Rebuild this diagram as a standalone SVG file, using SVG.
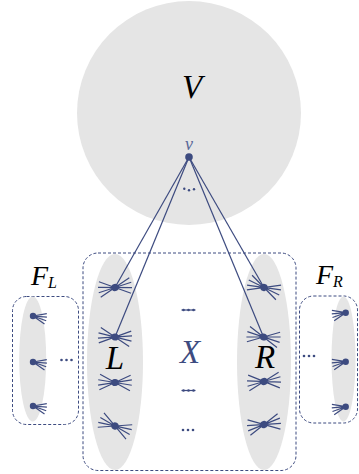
<svg xmlns="http://www.w3.org/2000/svg" xmlns:xlink="http://www.w3.org/1999/xlink" width="359" height="474" viewBox="0 0 359 474">
<style>
.blob{fill:#e5e5e5;stroke:none}
.box{fill:none;stroke:#3d4b80;stroke-width:1;stroke-dasharray:3 2}
.edge{stroke:#3d4b80;stroke-width:1.2;fill:none}
.sp{stroke:#3d4b80;stroke-width:1.2;fill:none}
.dot{fill:#3d4b80}
.big{font-family:"Liberation Serif","DejaVu Serif",serif;font-style:italic;font-size:33px;fill:#000;text-anchor:middle}
.lab{font-family:"Liberation Serif","DejaVu Serif",serif;font-style:italic;fill:#000}
</style>
<defs>
<g id="star">
<path class="sp" d="M-16 6.5L16 -6.5M-17 1.8L17 -1.8M-16.6 -3.6L16.6 3.6M-14.5 -9L14.5 9"/>
<circle class="dot" r="3.6"/>
</g>
<g id="half">
<path class="sp" d="M0 0L13.8 -2.4M0 0L13.9 1.2M0 0L13.2 4.8M0 0L11.5 8"/>
<circle class="dot" r="3.2"/>
</g>
<g id="dots3">
<circle class="dot" cx="-5" cy="0" r="1.3"/>
<circle class="dot" cx="0" cy="0" r="1.3"/>
<circle class="dot" cx="5" cy="0" r="1.3"/>
</g>
</defs>

<g id="V">
<circle class="blob" cx="189" cy="113" r="112"/>
<text class="big" x="192" y="98">V</text>
</g>

<g id="FL">
<rect class="box" x="12.5" y="296.5" width="66" height="128" rx="14"/>
<ellipse class="blob" cx="32.7" cy="359" rx="13.5" ry="62.5"/>
<text class="lab" x="31" y="285" font-size="28">F<tspan font-size="16" dy="3">L</tspan></text>
<use xlink:href="#half" x="33" y="316"/>
<use xlink:href="#half" x="33" y="362"/>
<use xlink:href="#half" x="33" y="406"/>
<use xlink:href="#dots3" x="66.5" y="360"/>
</g>

<g id="FR">
<rect class="box" x="299.5" y="296" width="58" height="127" rx="14"/>
<ellipse class="blob" cx="343.5" cy="359" rx="12" ry="62.5"/>
<text class="lab" x="316" y="284" font-size="28">F<tspan font-size="16" dy="3">R</tspan></text>
<g transform="translate(345.7,312.7) scale(-1,1)"><use xlink:href="#half"/></g>
<g transform="translate(345.7,361.7) scale(-1,1)"><use xlink:href="#half"/></g>
<g transform="translate(345.7,406.7) scale(-1,1)"><use xlink:href="#half"/></g>
<use xlink:href="#dots3" x="309" y="356"/>
</g>

<g id="Xbox">
<rect class="box" x="83" y="253" width="213" height="217.5" rx="15"/>
</g>

<g id="L">
<ellipse class="blob" cx="115" cy="362" rx="28" ry="108"/>
<text class="big" x="115" y="369">L</text>
</g>

<g id="R">
<ellipse class="blob" cx="264" cy="362" rx="27" ry="108"/>
<text class="big" x="265" y="368">R</text>
</g>

<g id="X">
<text class="big" x="190" y="363" style="fill:#3d4b80">X</text>
<line class="sp" x1="181.5" y1="310" x2="195.5" y2="310" stroke-width="0.8"/>
<use xlink:href="#dots3" x="188.5" y="310"/>
<line class="sp" x1="181.5" y1="390.5" x2="195.5" y2="390.5" stroke-width="0.8"/>
<use xlink:href="#dots3" x="188.5" y="390.5"/>
<use xlink:href="#dots3" x="188" y="430"/>
</g>

<g id="connectors">
<line class="edge" x1="189" y1="157" x2="115" y2="287.5"/>
<line class="edge" x1="189" y1="157" x2="115" y2="337"/>
<line class="edge" x1="189" y1="157" x2="264" y2="287.5"/>
<line class="edge" x1="189" y1="157" x2="263.5" y2="337"/>
</g>

<g id="v">
<circle class="dot" cx="189" cy="157" r="3.8"/>
<text x="189" y="150" font-family="Liberation Serif, DejaVu Serif, serif" font-style="italic" font-size="18" fill="#5a6898" text-anchor="middle">v</text>
<circle class="dot" cx="184.3" cy="188.7" r="1.2"/>
<circle class="dot" cx="189" cy="190.3" r="1.2"/>
<circle class="dot" cx="194" cy="189.3" r="1.2"/>
</g>

<g id="Lnodes">
<g transform="translate(115,287.5) rotate(-12)"><use xlink:href="#star"/></g>
<g transform="translate(115,337) rotate(2)"><use xlink:href="#star"/></g>
<g transform="translate(115,382.5) rotate(-3)"><use xlink:href="#star"/></g>
<g transform="translate(115,426) rotate(18)"><use xlink:href="#star"/></g>
</g>

<g id="Rnodes">
<g transform="translate(264,287.5) rotate(14)"><use xlink:href="#star"/></g>
<g transform="translate(263.5,337) rotate(6)"><use xlink:href="#star"/></g>
<g transform="translate(264,381.5) rotate(-10)"><use xlink:href="#star"/></g>
<g transform="translate(264,424.5) rotate(-16)"><use xlink:href="#star"/></g>
</g>
</svg>
